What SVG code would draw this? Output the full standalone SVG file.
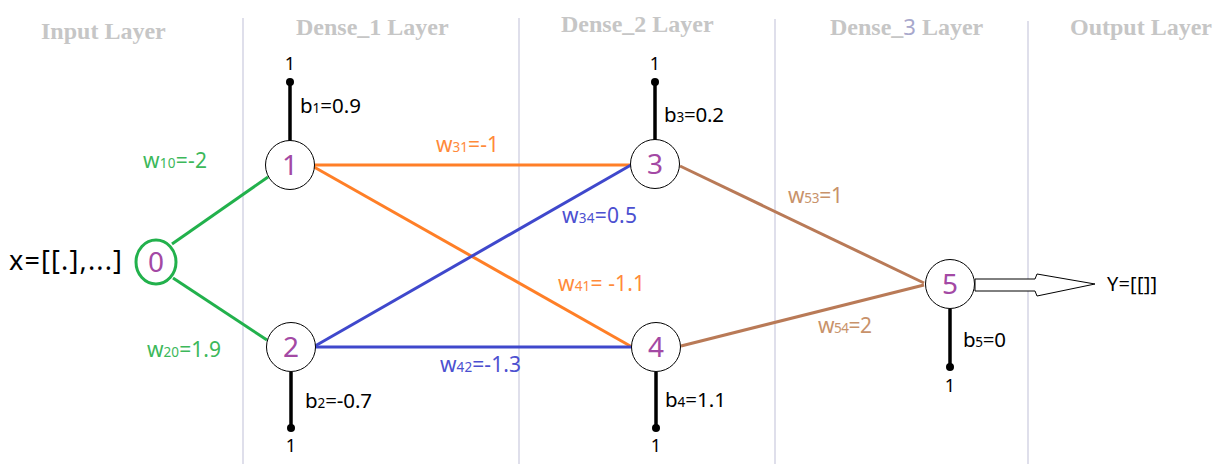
<svg xmlns="http://www.w3.org/2000/svg" width="1227" height="464" viewBox="0 0 1227 464">
<style>
.hdr{font-family:"Liberation Serif","Times New Roman",serif;font-weight:bold;font-size:24px;fill:#c6c6c6;text-anchor:start}
.sep{stroke:#d4d4e4;stroke-width:1.5}
.lbl{font-family:"Noto Sans","Open Sans",sans-serif;font-size:21px}
.bl{font-family:"Noto Sans","Open Sans",sans-serif;font-size:20.5px;fill:#000}
.sub{font-size:13.5px}
.num{font-family:"Noto Sans","Open Sans",sans-serif;font-size:28px;fill:#a349a4;text-anchor:middle}
.node{fill:#fff;stroke:#000;stroke-width:1}
.bias{stroke:#000;stroke-width:3.5}
.one{font-family:"Noto Sans","Open Sans",sans-serif;font-size:18px;fill:#000;text-anchor:middle}
.g{stroke:#22b14c;stroke-width:3;fill:none}
.o{stroke:#ff7f27;stroke-width:3;fill:none}
.b{stroke:#3f48cc;stroke-width:3;fill:none}
.br{stroke:#b97a57;stroke-width:3;fill:none}
</style>
<rect width="1227" height="464" fill="#fff"/>
<g id="layers">
<line class="sep" x1="243" y1="18" x2="243" y2="464"/>
<line class="sep" x1="519" y1="18" x2="519" y2="464"/>
<line class="sep" x1="775" y1="19" x2="775" y2="464"/>
<line class="sep" x1="1028" y1="21" x2="1028" y2="464"/>
<text class="hdr" x="41" y="39">Input Layer</text>
<text class="hdr" x="296" y="35">Dense_1 Layer</text>
<text class="hdr" x="561" y="32">Dense_2 Layer</text>
<text class="hdr" x="830" y="35">Dense_<tspan style="font-family:'Noto Sans',sans-serif;font-weight:normal;fill:#a8a8cc;font-size:22px">3</tspan> Layer</text>
<text class="hdr" x="1070" y="35">Output Layer</text>
</g>
<g id="connectors">
<line class="g" x1="172" y1="244" x2="268" y2="177"/>
<line class="g" x1="173" y1="278" x2="267" y2="340"/>
<line class="o" x1="315" y1="165" x2="631" y2="165"/>
<line class="o" x1="314" y1="167" x2="632" y2="347"/>
<line class="b" x1="315" y1="346" x2="631" y2="165"/>
<line class="b" x1="315" y1="347" x2="631" y2="347"/>
<line class="br" x1="680" y1="166" x2="924" y2="283"/>
<line class="br" x1="681" y1="346" x2="924" y2="285"/>
<text class="lbl" x="143" y="168" fill="#3cb85a" textLength="64">w<tspan class="sub">10</tspan>=-2</text>
<text class="lbl" x="147" y="357" fill="#3cb85a" textLength="74">w<tspan class="sub">20</tspan>=1.9</text>
<text class="lbl" x="436" y="152" fill="#ff8a3a" textLength="63">w<tspan class="sub">31</tspan>=-1</text>
<text class="lbl" x="558" y="291" fill="#ff8a3a" textLength="87">w<tspan class="sub">41</tspan>= -1.1</text>
<text class="lbl" x="562" y="223" fill="#4c50d0" textLength="75">w<tspan class="sub">34</tspan>=0.5</text>
<text class="lbl" x="440" y="372" fill="#4c50d0" textLength="81">w<tspan class="sub">42</tspan>=-1.3</text>
<text class="lbl" x="788" y="203" fill="#c8926a" textLength="55">w<tspan class="sub">53</tspan>=1</text>
<text class="lbl" x="818" y="333" fill="#c8926a" textLength="54">w<tspan class="sub">54</tspan>=2</text>
<path d="M975,279 L1035,279 L1037,274 L1095,284 L1037,296 L1035,291 L975,291 Z" fill="#fff" stroke="#000" stroke-width="1"/>
</g>
<g id="input">
<text x="9" y="270" style="font-family:'Noto Sans','Open Sans',sans-serif;font-size:27px" fill="#000" textLength="113">x=[[.],...]</text>
</g>
<g id="node0">
<ellipse cx="156" cy="262" rx="20" ry="22" fill="#fff" stroke="#22b14c" stroke-width="3"/>
<text class="num" x="156" y="272">0</text>
</g>
<g id="node1">
<line class="bias" x1="290" y1="82" x2="290" y2="142"/>
<circle cx="290" cy="82" r="4"/>
<text class="one" x="290" y="70">1</text>
<text class="bl" x="300" y="113" textLength="61">b<tspan class="sub">1</tspan>=0.9</text>
<circle class="node" cx="290" cy="165" r="24.5"/>
<text class="num" x="290" y="175">1</text>
</g>
<g id="node2">
<line class="bias" x1="291" y1="372" x2="291" y2="428"/>
<circle cx="291" cy="428" r="4"/>
<text class="one" x="291" y="452">1</text>
<text class="bl" x="305" y="408" textLength="67">b<tspan class="sub">2</tspan>=-0.7</text>
<circle class="node" cx="291" cy="347" r="24.5"/>
<text class="num" x="291" y="357">2</text>
</g>
<g id="node3">
<line class="bias" x1="655" y1="82" x2="655" y2="140"/>
<circle cx="655" cy="82" r="4"/>
<text class="one" x="655" y="70">1</text>
<text class="bl" x="664" y="122" textLength="60">b<tspan class="sub">3</tspan>=0.2</text>
<circle class="node" cx="655" cy="164" r="24.5"/>
<text class="num" x="655" y="174">3</text>
</g>
<g id="node4">
<line class="bias" x1="656" y1="372" x2="656" y2="428"/>
<circle cx="656" cy="428" r="4"/>
<text class="one" x="656" y="452">1</text>
<text class="bl" x="665" y="407" textLength="61">b<tspan class="sub">4</tspan>=1.1</text>
<circle class="node" cx="656" cy="347" r="24.5"/>
<text class="num" x="656" y="357">4</text>
</g>
<g id="node5">
<line class="bias" x1="950" y1="309" x2="950" y2="367"/>
<circle cx="950" cy="367" r="4"/>
<text class="one" x="950" y="392">1</text>
<text class="bl" x="963" y="347" textLength="43">b<tspan class="sub">5</tspan>=0</text>
<circle class="node" cx="950" cy="284" r="24.5"/>
<text class="num" x="950" y="294">5</text>
</g>
<g id="output">
<text x="1107" y="291" style="font-family:'Noto Sans','Open Sans',sans-serif;font-size:20px" fill="#000" textLength="50">Y=[[]]</text>
</g>
</svg>
